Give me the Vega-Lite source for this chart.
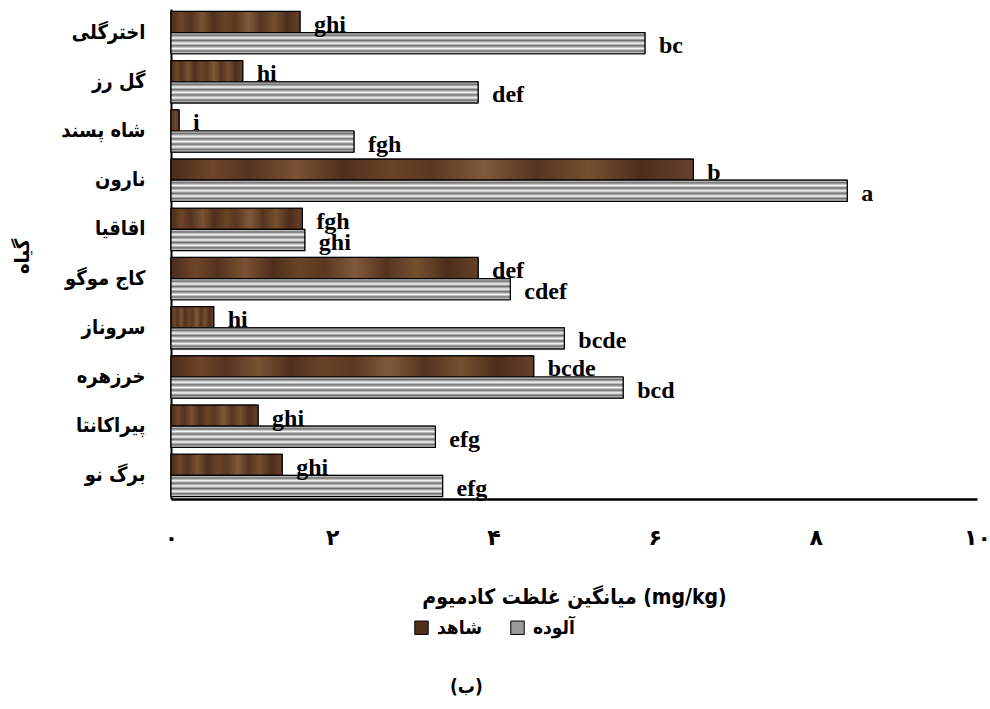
{
  "$schema": "https://vega.github.io/schema/vega-lite/v6.json",
  "autosize": {"type": "none"},
  "width": 806,
  "height": 490,
  "padding": {"left": 171, "top": 9, "right": 13, "bottom": 210},
  "background": "white",
  "config": {"view": {"stroke": null}},
  "title": {"text": "(ب)", "orient": "bottom", "anchor": "start", "frame": "group", "dx": 279, "offset": 40, "font": "DejaVu Sans Condensed", "fontSize": 19, "fontWeight": "bold", "color": "black"},
  "data": {"values": [
    {"plant": "اخترگلی", "series": "شاهد", "value": 1.60, "letter": "ghi"},
    {"plant": "اخترگلی", "series": "آلوده", "value": 5.88, "letter": "bc"},
    {"plant": "گل رز", "series": "شاهد", "value": 0.89, "letter": "hi"},
    {"plant": "گل رز", "series": "آلوده", "value": 3.81, "letter": "def"},
    {"plant": "شاه پسند", "series": "شاهد", "value": 0.10, "letter": "i"},
    {"plant": "شاه پسند", "series": "آلوده", "value": 2.27, "letter": "fgh"},
    {"plant": "نارون", "series": "شاهد", "value": 6.48, "letter": "b"},
    {"plant": "نارون", "series": "آلوده", "value": 8.39, "letter": "a"},
    {"plant": "اقاقیا", "series": "شاهد", "value": 1.63, "letter": "fgh"},
    {"plant": "اقاقیا", "series": "آلوده", "value": 1.66, "letter": "ghi"},
    {"plant": "کاج موگو", "series": "شاهد", "value": 3.81, "letter": "def"},
    {"plant": "کاج موگو", "series": "آلوده", "value": 4.21, "letter": "cdef"},
    {"plant": "سروناز", "series": "شاهد", "value": 0.53, "letter": "hi"},
    {"plant": "سروناز", "series": "آلوده", "value": 4.88, "letter": "bcde"},
    {"plant": "خرزهره", "series": "شاهد", "value": 4.50, "letter": "bcde"},
    {"plant": "خرزهره", "series": "آلوده", "value": 5.61, "letter": "bcd"},
    {"plant": "پیراکانتا", "series": "شاهد", "value": 1.08, "letter": "ghi"},
    {"plant": "پیراکانتا", "series": "آلوده", "value": 3.28, "letter": "efg"},
    {"plant": "برگ نو", "series": "شاهد", "value": 1.38, "letter": "ghi"},
    {"plant": "برگ نو", "series": "آلوده", "value": 3.37, "letter": "efg"}
  ]},
  "encoding": {
    "y": {
      "field": "plant", "type": "nominal", "sort": null,
      "scale": {"paddingInner": 0.14, "paddingOuter": 0.05},
      "axis": {
        "title": "گیاه", "titleFont": "DejaVu Sans Condensed", "titleFontSize": 20, "titleFontWeight": "bold", "titleColor": "black",
        "titleX": -149, "titleY": 247, "titleAngle": -90, "titleAlign": "center", "titleBaseline": "middle",
        "labelFont": "DejaVu Sans Condensed", "labelFontSize": 20, "labelFontWeight": "bold", "labelColor": "black",
        "labelPadding": 26, "ticks": false, "domainColor": "black", "domainWidth": 2
      }
    },
    "yOffset": {"field": "series", "type": "nominal", "scale": {"domain": ["شاهد", "آلوده"], "paddingInner": 0, "paddingOuter": 0}},
    "x": {
      "field": "value", "type": "quantitative",
      "scale": {"domain": [0, 10], "nice": false},
      "axis": {
        "title": "میانگین غلظت کادمیوم (mg/kg)", "titleFont": "DejaVu Sans Condensed", "titleFontSize": 21, "titleFontWeight": "bold", "titleColor": "black",
        "titleX": 403, "titleY": 98, "titleAlign": "center", "titleBaseline": "middle",
        "values": [0, 2, 4, 6, 8, 10],
        "labelExpr": "datum.value == 0 ? '۰' : datum.value == 2 ? '۲' : datum.value == 4 ? '۴' : datum.value == 6 ? '۶' : datum.value == 8 ? '۸' : '۱۰'",
        "labelFont": "DejaVu Sans", "labelFontSize": 22, "labelFontWeight": "bold", "labelColor": "black",
        "labelPadding": 28, "labelFlush": false, "labelBound": false,
        "ticks": false, "grid": false, "domainColor": "black", "domainWidth": 2.5
      }
    }
  },
  "layer": [
    {
      "mark": {"type": "bar", "stroke": "black", "strokeWidth": 1},
      "encoding": {
        "color": {
          "field": "series", "type": "nominal",
          "scale": {"domain": ["شاهد", "آلوده"], "range": ["#4f301c", "#9a9a9a"]},
          "legend": {
            "title": null, "orient": "none", "direction": "horizontal", "legendX": 241, "legendY": 609,
            "symbolType": "square", "symbolSize": 180, "symbolStrokeColor": "black", "symbolStrokeWidth": 1,
            "labelFont": "DejaVu Sans Condensed", "labelFontSize": 19, "labelFontWeight": "bold", "labelColor": "black",
            "columnPadding": 26, "labelOffset": 6
          }
        }
      }
    },
    {
      "mark": {
        "type": "bar", "stroke": "black", "strokeWidth": 1.2,
        "color": {"gradient": "linear", "x1": 0, "x2": 1, "y1": 0, "y2": 0, "stops": [
          {"offset": 0, "color": "#4a2c1a"}, {"offset": 0.08, "color": "#6e4529"}, {"offset": 0.15, "color": "#54331f"},
          {"offset": 0.24, "color": "#7a5233"}, {"offset": 0.33, "color": "#4f2f1c"}, {"offset": 0.42, "color": "#6a4327"},
          {"offset": 0.5, "color": "#5b3821"}, {"offset": 0.6, "color": "#80593a"}, {"offset": 0.7, "color": "#55341f"},
          {"offset": 0.8, "color": "#75502f"}, {"offset": 0.9, "color": "#4d2e1b"}, {"offset": 1, "color": "#66412a"}
        ]}
      },
      "transform": [{"filter": "datum.series == 'شاهد'"}]
    },
    {
      "mark": {
        "type": "bar", "stroke": "black", "strokeWidth": 1.2,
        "color": {"gradient": "linear", "x1": 0, "x2": 0, "y1": 0, "y2": 1, "stops": [
          {"offset": 0, "color": "#f8f8f8"}, {"offset": 0.12, "color": "#6e6e6e"}, {"offset": 0.25, "color": "#f8f8f8"},
          {"offset": 0.37, "color": "#6e6e6e"}, {"offset": 0.5, "color": "#f8f8f8"}, {"offset": 0.62, "color": "#6e6e6e"},
          {"offset": 0.75, "color": "#f8f8f8"}, {"offset": 0.87, "color": "#6e6e6e"}, {"offset": 1, "color": "#f8f8f8"}
        ]}
      },
      "transform": [{"filter": "datum.series == 'آلوده'"}]
    },
    {
      "mark": {"type": "text", "align": "left", "baseline": "alphabetic", "dx": 14, "dy": 10, "font": "Liberation Serif", "fontSize": 24, "fontWeight": "bold", "color": "black"},
      "encoding": {"text": {"field": "letter"}}
    }
  ]
}
